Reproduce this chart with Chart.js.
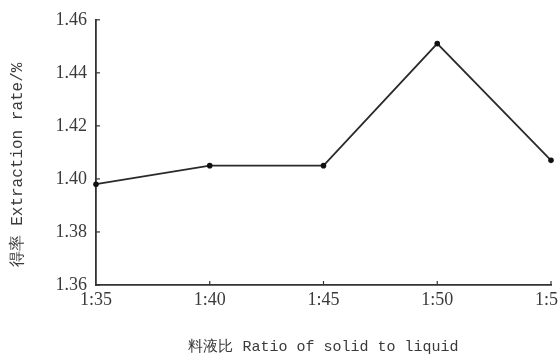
<!DOCTYPE html>
<html>
<head>
<meta charset="utf-8">
<script src="https://cdn.jsdelivr.net/npm/chart.js@4/dist/chart.umd.min.js"></script>
<style>
  html, body { margin: 0; padding: 0; background: #fff; overflow: hidden; width: 558px; height: 358px; }
  #wrap { width: 600px; height: 358px; }
</style>
</head>
<body>
<div id="wrap"><canvas id="c" width="600" height="358"></canvas></div>
<script>
// Solid-to-liquid ratios and measured extraction rate (%)
const ratios = ['1:35', '1:40', '1:45', '1:50', '1:55'];
const extractionRate = [1.398, 1.405, 1.405, 1.451, 1.407];
const yTicks = [1.36, 1.38, 1.40, 1.42, 1.44, 1.46];
const xTitle = '料液比 Ratio of solid to liquid';
const yTitle = '得率 Extraction rate/%';

const ink = '#333';
const labelColor = '#3a3a3a';

// short inward tick marks on both axes, plus the rotated y title
const axisDecor = {
  id: 'axisDecor',
  afterDraw(chart) {
    const ctx = chart.ctx;
    const x = chart.scales.x, y = chart.scales.y;
    ctx.save();
    ctx.strokeStyle = ink;
    ctx.lineWidth = 1.2;
    y.ticks.forEach((t, i) => {
      const py = y.getPixelForTick(i);
      ctx.beginPath();
      ctx.moveTo(x.left, py);
      ctx.lineTo(x.left + 4, py);
      ctx.stroke();
    });
    x.ticks.forEach((t, i) => {
      if (i === 0) return;
      const px = x.getPixelForTick(i);
      ctx.beginPath();
      ctx.moveTo(px, y.bottom);
      ctx.lineTo(px, y.bottom - 4);
      ctx.stroke();
    });
    ctx.translate(18, 165);
    ctx.rotate(-Math.PI / 2);
    ctx.fillStyle = labelColor;
    ctx.font = '16px "Liberation Mono", monospace';
    ctx.textAlign = 'center';
    ctx.textBaseline = 'middle';
    ctx.fillText(yTitle, 0, 0);
    ctx.restore();
  }
};

new Chart(document.getElementById('c'), {
  type: 'line',
  data: {
    labels: ratios,
    datasets: [{
      data: extractionRate,
      borderColor: '#2a2a2a',
      borderWidth: 1.8,
      pointRadius: 2.8,
      pointBackgroundColor: '#111',
      pointBorderColor: '#111',
      pointBorderWidth: 0,
      tension: 0,
      clip: false
    }]
  },
  options: {
    responsive: false,
    animation: false,
    layout: { padding: { left: 0, right: 49, top: 18.5, bottom: 0 } },
    plugins: { legend: { display: false }, tooltip: { enabled: false } },
    scales: {
      x: {
        type: 'category',
        offset: false,
        grid: { display: false, drawTicks: false },
        border: { display: true, color: ink, width: 1.8 },
        ticks: {
          color: labelColor,
          padding: 4,
          maxRotation: 0,
          autoSkip: false,
          font: { family: '"Liberation Serif", serif', size: 18 }
        },
        title: {
          display: true,
          text: xTitle,
          color: labelColor,
          padding: { top: 0, bottom: 2 },
          font: { family: '"Liberation Mono", monospace', size: 15 }
        },
        afterFit(s) { s.height = 73; }
      },
      y: {
        min: 1.36,
        max: 1.46,
        afterBuildTicks(s) { s.ticks = yTicks.map(v => ({ value: v })); },
        grid: { display: false, drawTicks: false },
        border: { display: true, color: ink, width: 1.8 },
        ticks: {
          color: labelColor,
          padding: 9,
          font: { family: '"Liberation Serif", serif', size: 18 },
          callback: v => v.toFixed(2)
        },
        afterFit(s) { s.width = 96; }
      }
    }
  },
  plugins: [axisDecor]
});
</script>
</body>
</html>
